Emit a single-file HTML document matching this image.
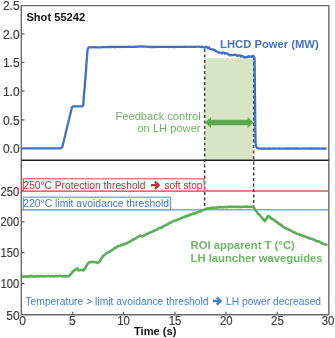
<!DOCTYPE html>
<html><head><meta charset="utf-8"><style>
html,body{margin:0;padding:0;background:#fff;width:335px;height:338px;overflow:hidden}
svg{display:block;will-change:transform}
text{font-family:"Liberation Sans",sans-serif}
</style></head><body>
<svg width="335" height="338" viewBox="0 0 335 338">
<!-- green feedback region -->
<rect x="205" y="58.3" width="48.3" height="101.4" fill="#d8e5c5"/>
<!-- frame -->
<g stroke="#6a6a6a" stroke-width="1.4" fill="none">
<path d="M21.3,5.6 H328.8 V314.8 H21.3 Z"/>
</g>
<line x1="21.5" y1="160.3" x2="328.8" y2="160.3" stroke="#222" stroke-width="1.4"/>
<!-- y ticks top -->
<g stroke="#5a5a5a" stroke-width="1.2">
<path d="M21.5,33.9h3M21.5,62.5h3M21.5,91.2h3M21.5,119.9h3M21.5,148.5h3"/>
<path d="M21.5,190.9h3M21.5,221.8h3M21.5,252.7h3M21.5,283.7h3"/>
<path d="M72.8,314.8v-3M123.4,314.8v-3M175,314.8v-3M226,314.8v-3M277.3,314.8v-3"/>
</g>
<!-- tick labels -->
<g font-size="12" fill="#404040" text-anchor="end" stroke="#404040" stroke-width="0.2">
<text x="19.6" y="10.1">2.5</text>
<text x="19.6" y="38.7">2.0</text>
<text x="19.6" y="67.3">1.5</text>
<text x="19.6" y="96.0">1.0</text>
<text x="19.6" y="124.7">0.5</text>
<text x="19.6" y="153.3">0.0</text>
<text x="19.2" y="195.6" textLength="18.6" lengthAdjust="spacingAndGlyphs">250</text>
<text x="19.2" y="226.2" textLength="18.6" lengthAdjust="spacingAndGlyphs">200</text>
<text x="19.2" y="257.2" textLength="18.6" lengthAdjust="spacingAndGlyphs">150</text>
<text x="19.2" y="288.2" textLength="18.6" lengthAdjust="spacingAndGlyphs">100</text>
<text x="19.6" y="319.6">50</text>
</g>
<g font-size="12" fill="#404040" text-anchor="middle" stroke="#404040" stroke-width="0.2">
<text x="22.6" y="324.8">0</text>
<text x="72.4" y="324.8">5</text>
<text x="123.6" y="324.8" textLength="12.6" lengthAdjust="spacingAndGlyphs">10</text>
<text x="175" y="324.8" textLength="12.6" lengthAdjust="spacingAndGlyphs">15</text>
<text x="226.2" y="324.8" textLength="12.6" lengthAdjust="spacingAndGlyphs">20</text>
<text x="277.4" y="324.8" textLength="12.6" lengthAdjust="spacingAndGlyphs">25</text>
<text x="328" y="324.8" textLength="12.6" lengthAdjust="spacingAndGlyphs">30</text>
</g>
<!-- threshold lines -->
<line x1="22" y1="191" x2="328.2" y2="191" stroke="#d95a5a" stroke-width="1.4"/>
<line x1="22" y1="209.8" x2="328.2" y2="209.8" stroke="#80a8dc" stroke-width="1.5"/>
<!-- dashed lines -->
<g stroke="#333" stroke-width="1.3" stroke-dasharray="3,2.5">
<line x1="204.7" y1="49" x2="204.7" y2="209.5"/>
<line x1="253.7" y1="57" x2="253.7" y2="207"/>
</g>
<!-- blue power curve -->
<path id="blue" fill="none" stroke="#3f70c3" stroke-width="2.3" stroke-linejoin="round" d="M22.0,148.4 L23.0,148.4 L24.0,148.4 L25.0,148.4 L26.1,148.4 L27.1,148.4 L28.1,148.4 L29.1,148.4 L30.1,148.4 L31.1,148.4 L32.1,148.4 L33.1,148.4 L34.2,148.4 L35.2,148.4 L36.2,148.4 L37.2,148.4 L38.2,148.4 L39.2,148.4 L40.2,148.4 L41.2,148.4 L42.3,148.4 L43.3,148.4 L44.3,148.4 L45.3,148.4 L46.3,148.4 L47.3,148.4 L48.3,148.4 L49.4,148.4 L50.4,148.4 L51.4,148.4 L52.4,148.4 L53.4,148.4 L54.4,148.4 L55.4,148.4 L56.4,148.4 L57.5,148.4 L58.5,148.4 L59.5,148.4 L60.5,148.4 L61.4,147.7 L62.3,147.0 L62.5,146.0 L62.8,145.0 L63.0,144.0 L63.3,143.0 L63.5,142.0 L63.8,141.0 L64.0,140.0 L64.2,139.0 L64.5,138.0 L64.7,137.1 L65.0,136.1 L65.2,135.1 L65.5,134.1 L65.7,133.1 L65.9,132.1 L66.2,131.1 L66.4,130.1 L66.7,129.1 L66.9,128.1 L67.2,127.1 L67.4,126.1 L67.6,125.1 L67.9,124.1 L68.1,123.1 L68.4,122.1 L68.6,121.1 L68.8,120.1 L69.1,119.1 L69.3,118.1 L69.6,117.2 L69.8,116.2 L70.1,115.2 L70.3,114.2 L70.5,113.2 L70.8,112.2 L71.0,111.2 L71.3,110.2 L71.5,109.2 L71.8,108.2 L72.0,107.2 L73.2,106.3 L74.2,106.3 L75.2,106.3 L76.3,106.3 L77.3,106.3 L78.3,106.3 L79.3,106.3 L80.4,106.3 L81.4,106.3 L82.4,106.3 L83.3,105.0 L83.4,104.0 L83.4,103.0 L83.5,102.0 L83.5,101.0 L83.6,100.0 L83.6,99.0 L83.7,98.0 L83.7,97.0 L83.8,96.0 L83.9,95.0 L84.0,94.0 L84.1,93.0 L84.2,92.0 L84.3,91.0 L84.4,90.0 L84.5,89.0 L84.6,88.0 L84.7,87.0 L84.8,86.0 L84.8,85.0 L84.9,84.0 L85.0,83.0 L85.0,82.0 L85.1,81.0 L85.2,80.0 L85.3,79.0 L85.4,78.0 L85.5,77.0 L85.6,76.0 L85.6,75.0 L85.7,74.0 L85.8,73.0 L85.9,72.0 L86.0,71.0 L86.0,70.0 L86.1,69.0 L86.2,68.0 L86.2,67.0 L86.3,66.0 L86.3,65.0 L86.4,64.0 L86.5,63.0 L86.6,62.0 L86.7,61.0 L86.8,60.0 L86.8,59.0 L86.9,58.0 L87.0,57.0 L87.1,56.0 L87.2,54.9 L87.3,53.8 L87.3,52.8 L87.4,51.7 L87.5,50.6 L87.6,49.5 L88.1,48.4 L88.6,47.3 L89.6,47.3 L90.6,47.2 L91.7,47.3 L92.7,47.2 L93.7,47.2 L94.8,47.3 L95.8,47.2 L96.8,47.4 L97.8,47.3 L98.8,47.3 L99.9,47.3 L100.9,47.3 L101.9,47.1 L103.0,47.2 L104.0,47.1 L105.0,47.2 L106.0,47.0 L107.0,47.2 L108.0,47.0 L109.0,47.0 L110.0,46.9 L111.0,47.0 L112.0,46.9 L113.0,46.8 L114.0,47.0 L115.0,47.0 L116.0,47.0 L117.0,46.9 L118.0,46.8 L119.0,46.8 L120.0,47.0 L121.0,46.9 L122.0,46.8 L123.0,46.9 L124.0,46.9 L125.0,46.9 L126.0,46.8 L127.0,46.8 L128.0,46.8 L129.0,46.7 L130.0,46.9 L131.0,46.8 L132.0,46.8 L133.0,46.8 L134.0,46.9 L135.0,46.7 L136.0,46.8 L137.0,46.7 L138.0,46.6 L139.0,46.6 L140.0,46.4 L141.0,46.4 L142.0,46.5 L143.0,46.6 L144.0,46.5 L145.0,46.6 L146.0,46.7 L147.0,46.7 L148.0,46.8 L149.0,46.9 L150.0,47.0 L151.0,46.8 L152.0,47.0 L153.0,46.8 L154.0,47.0 L155.0,47.0 L156.0,46.8 L157.0,46.9 L158.0,47.0 L159.0,46.8 L160.0,46.9 L161.0,46.9 L162.0,46.9 L163.0,46.9 L164.0,46.8 L165.0,46.8 L166.0,46.8 L167.0,46.8 L168.0,46.8 L169.0,47.0 L170.0,46.9 L171.0,46.8 L172.0,46.8 L173.0,47.0 L174.0,46.8 L175.0,47.0 L176.0,46.9 L177.0,46.9 L178.0,46.9 L179.0,46.9 L180.0,46.9 L181.0,46.8 L182.0,46.9 L183.0,46.8 L184.0,46.9 L185.0,46.7 L186.0,46.8 L187.0,46.8 L188.0,46.9 L189.0,46.8 L190.0,46.9 L191.0,46.9 L192.0,46.9 L193.0,46.8 L194.0,46.9 L195.0,46.8 L196.0,46.8 L197.0,46.7 L198.0,46.7 L199.0,46.7 L200.0,46.9 L201.0,46.8 L202.0,46.8 L203.0,47.0 L204.0,47.5 L205.0,47.3 L206.0,46.7 L207.0,47.1 L208.0,48.2 L209.0,47.3 L210.0,49.0 L211.0,49.4 L212.0,49.3 L213.0,49.5 L214.0,49.9 L215.0,50.4 L216.0,51.1 L217.0,51.5 L218.0,51.8 L219.0,52.7 L220.0,52.6 L221.0,52.6 L222.0,53.5 L223.0,52.6 L224.0,52.7 L225.0,53.7 L226.0,53.1 L227.0,53.3 L228.0,54.3 L229.0,54.5 L230.0,55.5 L231.0,55.2 L232.0,55.1 L233.0,55.1 L234.0,54.8 L235.0,54.6 L236.0,55.0 L237.0,55.8 L238.0,55.2 L239.0,55.6 L240.0,55.2 L241.0,56.6 L242.0,55.8 L243.0,56.2 L244.0,57.4 L245.0,57.0 L246.0,57.4 L247.0,56.9 L248.0,57.0 L249.0,56.0 L250.0,56.7 L250.9,56.5 L251.8,56.9 L252.7,55.9 L253.6,56.0 L254.0,56.8 L254.4,57.5 L254.4,58.6 L254.5,59.8 L254.6,60.9 L254.6,62.0 L254.6,63.0 L254.6,64.0 L254.6,65.0 L254.6,66.0 L254.7,67.0 L254.7,68.0 L254.7,69.0 L254.7,70.0 L254.7,71.0 L254.7,72.0 L254.7,73.0 L254.7,74.0 L254.7,75.0 L254.8,76.0 L254.8,77.0 L254.8,78.0 L254.8,79.0 L254.8,80.0 L254.8,81.0 L254.8,82.0 L254.8,83.0 L254.8,84.0 L254.9,85.0 L254.9,86.0 L254.9,87.0 L254.9,88.0 L254.9,89.0 L254.9,90.0 L254.9,91.0 L254.9,92.0 L254.9,93.0 L255.0,94.0 L255.0,95.0 L255.0,96.0 L255.0,97.0 L255.0,98.0 L255.0,99.0 L255.0,100.0 L255.0,101.0 L255.0,102.0 L255.1,103.0 L255.1,104.0 L255.1,105.0 L255.1,106.0 L255.1,107.0 L255.1,108.0 L255.1,109.0 L255.1,110.0 L255.1,111.0 L255.2,112.0 L255.2,113.0 L255.2,114.0 L255.2,115.0 L255.2,116.0 L255.2,117.0 L255.2,118.0 L255.2,119.0 L255.2,120.0 L255.3,121.0 L255.3,122.0 L255.3,123.0 L255.3,124.0 L255.3,125.0 L255.3,126.0 L255.3,127.0 L255.3,128.0 L255.3,129.0 L255.4,130.0 L255.4,131.0 L255.4,132.0 L255.4,133.0 L255.4,134.0 L255.4,135.0 L255.4,136.0 L255.4,137.0 L255.4,138.0 L255.5,139.0 L255.5,140.0 L255.5,141.0 L255.5,142.0 L255.5,143.0 L255.6,143.9 L255.8,144.7 L255.9,145.6 L256.4,146.8 L257.0,147.9 L258.2,148.2 L259.5,148.6 L260.5,148.6 L261.5,148.6 L262.5,148.7 L263.5,148.5 L264.5,148.6 L265.5,148.6 L266.5,148.6 L267.5,148.6 L268.5,148.5 L269.5,148.7 L270.5,148.6 L271.5,148.6 L272.5,148.6 L273.5,148.5 L274.5,148.5 L275.5,148.6 L276.5,148.7 L277.5,148.7 L278.5,148.7 L279.5,148.5 L280.5,148.7 L281.5,148.7 L282.5,148.7 L283.5,148.6 L284.5,148.7 L285.5,148.5 L286.5,148.5 L287.5,148.5 L288.5,148.5 L289.5,148.5 L290.5,148.5 L291.5,148.6 L292.5,148.5 L293.6,148.6 L294.6,148.5 L295.6,148.7 L296.6,148.5 L297.6,148.5 L298.6,148.7 L299.6,148.6 L300.6,148.7 L301.6,148.6 L302.6,148.6 L303.6,148.5 L304.6,148.6 L305.6,148.5 L306.6,148.7 L307.6,148.7 L308.6,148.7 L309.6,148.5 L310.6,148.6 L311.6,148.5 L312.6,148.5 L313.6,148.6 L314.6,148.7 L315.6,148.5 L316.6,148.7 L317.6,148.7 L318.6,148.5 L319.6,148.7 L320.6,148.7 L321.6,148.5 L322.6,148.6 L323.6,148.6 L324.6,148.6 L325.6,148.5 L326.6,148.6"/>
<!-- green temperature curve -->
<path id="green" fill="none" stroke="#5aae55" stroke-width="2.6" stroke-linejoin="round" d="M22.0,276.5 L23.0,276.5 L24.0,276.6 L25.0,276.6 L26.0,276.3 L27.0,276.5 L28.1,276.6 L29.1,276.6 L30.1,276.1 L31.1,276.0 L32.1,276.5 L33.1,276.2 L34.1,276.4 L35.1,276.7 L36.1,276.3 L37.1,276.2 L38.1,276.3 L39.1,276.4 L40.2,276.0 L41.2,276.2 L42.2,276.1 L43.2,276.4 L44.2,276.5 L45.2,276.2 L46.2,276.2 L47.2,276.3 L48.2,276.1 L49.2,276.1 L50.2,276.2 L51.3,276.2 L52.3,276.0 L53.3,276.4 L54.3,276.3 L55.3,276.1 L56.3,276.0 L57.3,276.4 L58.3,276.0 L59.3,276.0 L60.3,276.0 L61.3,275.9 L62.3,276.5 L63.4,276.1 L64.4,276.1 L65.4,276.4 L66.4,276.3 L67.4,276.0 L68.4,276.2 L69.5,275.7 L70.5,274.5 L71.5,273.5 L72.5,271.9 L73.2,271.5 L74.0,270.7 L74.8,270.2 L75.5,269.5 L76.5,269.0 L77.5,268.4 L78.0,269.5 L78.5,270.5 L79.8,270.0 L81.0,269.9 L82.0,270.1 L83.0,270.1 L84.0,270.2 L84.6,268.7 L85.1,267.9 L85.7,267.4 L86.2,266.3 L86.7,265.4 L87.2,264.5 L88.0,263.5 L88.7,262.4 L89.6,262.3 L90.6,262.0 L91.5,262.1 L92.5,261.7 L93.4,262.1 L94.3,262.2 L95.1,262.3 L96.0,262.3 L97.0,262.6 L98.0,263.0 L99.0,261.7 L100.0,261.1 L100.6,259.9 L101.2,258.9 L101.8,258.0 L102.4,257.1 L103.0,255.9 L104.0,255.4 L105.0,254.7 L106.0,253.5 L107.0,252.7 L108.0,252.6 L109.0,252.1 L110.0,251.0 L111.0,250.7 L112.0,250.2 L113.0,249.7 L114.0,248.5 L115.0,247.9 L116.0,247.9 L117.0,246.7 L118.0,246.3 L119.0,246.1 L120.0,245.6 L121.0,245.4 L122.0,244.7 L123.0,244.9 L124.0,244.1 L125.0,244.2 L126.0,243.4 L127.0,243.4 L128.0,242.5 L129.0,242.1 L130.0,241.5 L131.0,241.1 L132.0,240.3 L133.0,239.4 L134.0,239.4 L135.0,238.7 L136.0,238.3 L137.0,237.3 L138.0,237.0 L139.0,236.4 L140.0,235.9 L141.0,235.9 L142.0,236.3 L143.0,236.1 L144.0,235.4 L145.0,235.1 L146.0,234.3 L147.0,233.7 L148.0,233.6 L149.0,232.9 L150.0,232.6 L151.0,232.0 L152.0,231.7 L153.0,231.3 L154.0,230.8 L155.0,230.2 L156.0,230.0 L157.0,229.6 L158.0,228.7 L159.0,228.2 L160.0,227.7 L161.0,227.9 L162.0,227.3 L163.0,226.4 L164.0,226.4 L165.0,225.4 L166.0,225.1 L167.0,224.5 L168.0,224.3 L169.0,223.1 L170.0,222.8 L171.0,222.5 L172.0,221.6 L173.0,221.2 L174.0,220.9 L175.0,220.7 L176.0,220.2 L177.0,219.9 L178.0,219.4 L179.0,219.0 L180.0,218.7 L181.0,218.3 L182.0,217.9 L183.0,217.3 L184.0,216.8 L185.0,216.9 L186.0,216.1 L187.0,216.3 L188.0,215.7 L189.0,215.1 L190.0,215.2 L191.0,214.3 L192.0,214.2 L193.0,213.5 L194.0,213.8 L195.0,213.2 L196.0,213.0 L197.0,212.2 L198.0,212.2 L199.0,211.8 L200.0,211.4 L201.0,211.2 L202.0,210.4 L203.0,209.9 L204.0,209.7 L205.0,209.3 L206.0,208.8 L207.0,208.8 L208.0,208.3 L209.0,208.3 L210.0,208.3 L211.0,207.7 L212.0,208.1 L213.0,207.5 L214.0,208.0 L215.0,207.6 L216.0,207.5 L217.0,207.6 L218.0,207.4 L219.0,207.4 L220.0,206.9 L221.0,207.2 L222.0,207.2 L223.0,207.4 L224.0,206.8 L225.0,207.1 L226.0,207.2 L227.0,207.1 L228.0,206.7 L229.0,207.1 L230.0,206.8 L231.0,206.7 L232.0,207.2 L233.0,206.7 L234.0,206.8 L235.0,207.0 L236.0,206.9 L237.0,206.8 L238.0,207.0 L239.0,206.8 L240.0,206.9 L241.0,207.0 L242.0,206.9 L243.0,206.8 L244.0,206.7 L245.0,206.7 L246.0,206.6 L247.0,206.9 L248.0,206.7 L249.0,206.8 L250.0,207.0 L250.9,206.8 L251.8,206.6 L252.7,206.9 L253.6,206.5 L254.1,207.8 L254.6,208.6 L255.0,209.3 L255.5,210.4 L256.0,210.9 L257.0,212.2 L258.0,213.7 L259.0,214.5 L260.0,215.4 L261.0,216.5 L261.8,217.5 L262.5,218.4 L263.3,219.2 L264.0,220.0 L264.8,221.1 L265.5,220.0 L266.2,219.0 L266.8,218.4 L267.5,216.9 L268.2,215.9 L269.1,216.5 L270.1,217.3 L271.1,218.2 L272.0,218.9 L273.0,219.2 L274.0,219.9 L275.0,221.0 L276.0,221.5 L277.0,222.4 L278.0,222.7 L279.0,223.9 L280.0,224.3 L281.0,225.2 L282.0,225.7 L283.0,226.6 L284.0,227.4 L285.0,228.0 L286.0,228.2 L287.0,229.0 L288.0,229.3 L289.0,229.7 L290.0,230.3 L291.0,230.6 L292.0,231.2 L293.0,231.9 L294.0,232.5 L295.0,232.5 L296.0,233.4 L297.0,233.8 L298.0,234.0 L299.0,234.1 L300.0,234.9 L301.0,235.0 L302.0,235.7 L303.0,235.8 L304.0,236.3 L305.0,236.4 L306.0,236.9 L307.0,237.3 L308.0,237.8 L309.0,237.8 L310.0,238.7 L311.0,238.6 L312.0,239.0 L313.0,239.4 L314.0,239.6 L315.0,240.2 L316.0,240.9 L317.0,241.2 L318.0,241.3 L319.0,241.6 L320.0,242.2 L321.0,242.9 L322.0,243.0 L323.0,243.7 L324.0,243.9 L324.9,244.2 L325.8,244.6 L326.6,244.9 L327.5,245.0"/>
<!-- double arrow -->
<path fill="#5aa84f" d="M205,122.5 L211,117 L211,119.7 L247.6,119.7 L247.6,117 L253.6,122.5 L247.6,128 L247.6,125.3 L211,125.3 L211,128 Z"/>
<!-- labels -->
<text x="26.4" y="20.5" font-size="11.8" font-weight="bold" fill="#111" textLength="58.8" lengthAdjust="spacingAndGlyphs">Shot 55242</text>
<text x="220.1" y="47.6" font-size="11.6" font-weight="bold" fill="#4472c4" textLength="98.6" lengthAdjust="spacingAndGlyphs">LHCD Power (MW)</text>
<g font-size="11.6" fill="#6bb35e" text-anchor="end">
<text x="200.6" y="119.8" textLength="85" lengthAdjust="spacingAndGlyphs">Feedback control</text>
<text x="200.6" y="132.4" textLength="63.2" lengthAdjust="spacingAndGlyphs">on LH power</text>
</g>
<g font-size="11.6" font-weight="bold" fill="#6db862">
<text x="190.6" y="248.8" textLength="104.2" lengthAdjust="spacingAndGlyphs">ROI apparent T (°C)</text>
<text x="190.6" y="261.5" textLength="132" lengthAdjust="spacingAndGlyphs">LH launcher waveguides</text>
</g>
<!-- red box -->
<rect x="23.4" y="178.8" width="180.8" height="12.2" fill="#fff" stroke="#dc5c5c" stroke-width="1.2"/>
<text x="23.5" y="188.9" font-size="10.8" fill="#c82a30" textLength="122" lengthAdjust="spacingAndGlyphs">250°C Protection threshold</text>
<path fill="none" stroke="#c82a30" stroke-width="2.3" d="M151,185.2 H158.5 M154.9,181.6 L158.7,185.2 L154.9,188.8"/>
<text x="164.4" y="188.9" font-size="10.8" fill="#c82a30" textLength="38" lengthAdjust="spacingAndGlyphs">soft stop</text>
<!-- blue box -->
<rect x="23.4" y="197.2" width="147.1" height="12.6" fill="#fff" stroke="#6b9ad8" stroke-width="1.2"/>
<text x="23.3" y="207.4" font-size="10.8" fill="#4472c4" textLength="145.8" lengthAdjust="spacingAndGlyphs">220°C limit avoidance threshold</text>
<!-- bottom note -->
<text x="25.4" y="304.9" font-size="10.9" fill="#4a7dcc" textLength="183.2" lengthAdjust="spacingAndGlyphs">Temperature &gt; limit avoidance threshold</text>
<path fill="none" stroke="#4a7dcc" stroke-width="2.3" d="M213,301 H220.5 M216.8,297.4 L220.6,301 L216.8,304.6"/>
<text x="226.1" y="304.9" font-size="10.9" fill="#4a7dcc" textLength="95" lengthAdjust="spacingAndGlyphs">LH power decreased</text>
<text x="134" y="334.6" font-size="11.6" font-weight="bold" fill="#111" textLength="42.4" lengthAdjust="spacingAndGlyphs">Time (s)</text>
</svg>
</body></html>
